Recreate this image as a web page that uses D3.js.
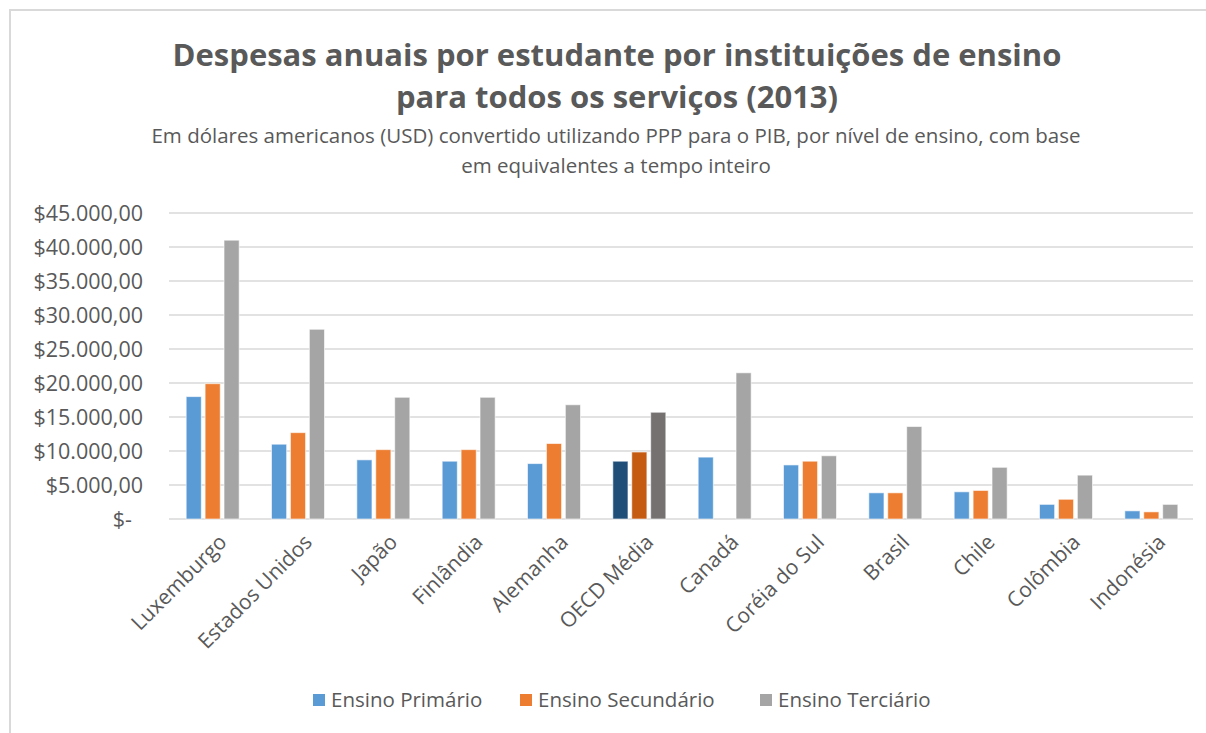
<!DOCTYPE html>
<html>
<head>
<meta charset="utf-8">
<script src="https://cdn.jsdelivr.net/npm/d3@7"></script>
<style>
  html, body { margin: 0; padding: 0; background: #fff; }
  svg { display: block; font-family: "Open Sans", sans-serif; }
</style>
</head>
<body>
<svg id="chart" width="1206" height="733"></svg>
<script>
// categories and series
const countries = ["Luxemburgo", "Estados Unidos", "Japão", "Finlândia", "Alemanha", "OECD Média",
  "Canadá", "Coréia do Sul", "Brasil", "Chile", "Colômbia", "Indonésia"];
const seriesNames = ["Ensino Primário", "Ensino Secundário", "Ensino Terciário"];
const primario   = [18000, 11000, 8700, 8500, 8150, 8500, 9100, 7950, 3850, 4000, 2150, 1200];
const secundario = [19900, 12700, 10200, 10200, 11100, 9850, null, 8500, 3850, 4200, 2900, 1050];
const terciario  = [41000, 27900, 17900, 17900, 16800, 15700, 21500, 9300, 13600, 7600, 6450, 2150];
const yTicks = [0, 5000, 10000, 15000, 20000, 25000, 30000, 35000, 40000, 45000];

const colors = ["#5b9bd5", "#ed7d31", "#a5a5a5"];
const highlightColors = ["#1f4e79", "#c55a11", "#767171"];
const highlight = "OECD Média";

const svg = d3.select("#chart");
const textColor = "#595959";

// outer chart frame
svg.append("path")
  .attr("d", "M10,733 V10 H1206")
  .attr("fill", "none")
  .attr("stroke", "#d9d9d9")
  .attr("stroke-width", 2);

// titles
const title = svg.append("g").attr("fill", textColor).attr("text-anchor", "middle");
title.append("text").attr("x", 617).attr("y", 66)
  .attr("font-size", 31).attr("font-weight", "bold")
  .text("Despesas anuais por estudante por instituições de ensino");
title.append("text").attr("x", 617).attr("y", 108)
  .attr("font-size", 31).attr("font-weight", "bold")
  .text("para todos os serviços (2013)");
title.append("text").attr("x", 616).attr("y", 143)
  .attr("font-size", 20.5)
  .text("Em dólares americanos (USD) convertido utilizando PPP para o PIB, por nível de ensino, com base");
title.append("text").attr("x", 616).attr("y", 173)
  .attr("font-size", 20.5)
  .text("em equivalentes a tempo inteiro");

const margin = { left: 169, right: 1193, top: 213, bottom: 519 };

const x = d3.scaleBand()
  .domain(countries)
  .range([margin.left, margin.right]);

const xs = d3.scaleBand()
  .domain(d3.range(3))
  .range([0, 53])
  .paddingInner(0.2);

const y = d3.scaleLinear()
  .domain([0, 45000])
  .range([margin.bottom, margin.top]);

// gridlines
svg.append("g")
  .selectAll("line")
  .data(yTicks)
  .join("line")
  .attr("x1", margin.left)
  .attr("x2", margin.right)
  .attr("y1", d => y(d))
  .attr("y2", d => y(d))
  .attr("stroke", "#d9d9d9")
  .attr("stroke-width", 1.5);

// y axis labels
const fmt = d3.formatLocale({ decimal: ",", thousands: ".", grouping: [3], currency: ["$", ""] }).format("$,.2f");
svg.append("g")
  .attr("fill", textColor)
  .attr("font-size", 21.5)
  .attr("text-anchor", "end")
  .selectAll("text")
  .data(yTicks)
  .join("text")
  .attr("x", d => d === 0 ? 132 : 143)
  .attr("y", d => y(d))
  .attr("dy", "0.35em")
  .text(d => d === 0 ? "$-" : fmt(d));

// bars
const rows = countries.map((c, i) => ({
  country: c,
  values: [primario[i], secundario[i], terciario[i]]
}));

const groups = svg.append("g")
  .selectAll("g")
  .data(rows)
  .join("g")
  .attr("transform", d => `translate(${x(d.country) + (x.bandwidth() - 53) / 2 + 1},0)`);

groups.selectAll("rect")
  .data(d => d.values.map((v, k) => ({ v, k, country: d.country })).filter(e => e.v != null))
  .join("rect")
  .attr("x", e => xs(e.k))
  .attr("width", xs.bandwidth())
  .attr("y", e => y(e.v))
  .attr("height", e => y(0) - y(e.v))
  .attr("fill", e => e.country === highlight ? highlightColors[e.k] : colors[e.k])
  .attr("stroke", "#ffffff")
  .attr("stroke-opacity", 0.6)
  .attr("stroke-width", 1);

// x axis labels
svg.append("g")
  .attr("fill", textColor)
  .attr("font-size", 21)
  .attr("text-anchor", "end")
  .selectAll("text")
  .data(countries)
  .join("text")
  .attr("transform", d => `translate(${x(d) + x.bandwidth() / 2 + 6},533) rotate(-45)`)
  .attr("dy", "0.7em")
  .text(d => d);

// legend
const legendX = [313, 520, 760];
const legend = svg.append("g")
  .selectAll("g")
  .data(seriesNames)
  .join("g")
  .attr("transform", (d, i) => `translate(${legendX[i]},694)`);
legend.append("rect")
  .attr("width", 12).attr("height", 12)
  .attr("fill", (d, i) => colors[i]);
legend.append("text")
  .attr("x", 18).attr("y", 13)
  .attr("font-size", 20.5)
  .attr("fill", textColor)
  .text(d => d);
</script>
</body>
</html>
